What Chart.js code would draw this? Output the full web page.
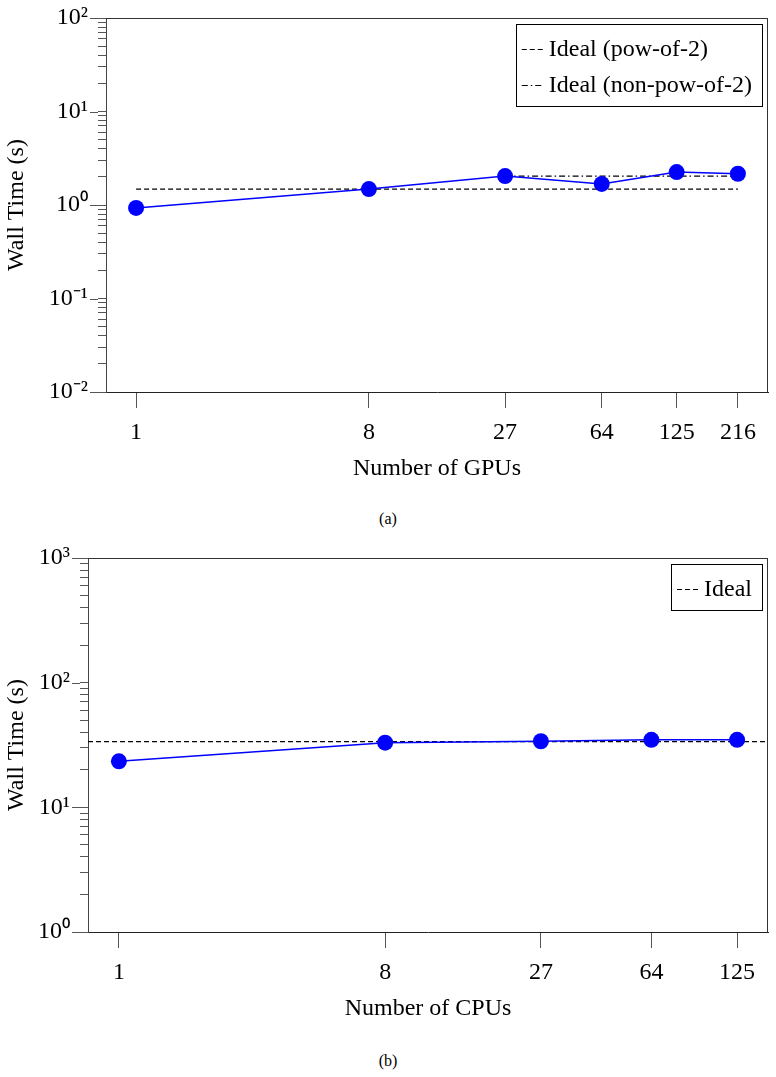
<!DOCTYPE html>
<html>
<head>
<meta charset="utf-8">
<script src="https://cdn.jsdelivr.net/npm/chart.js@4.4.1/dist/chart.umd.min.js"></script>
<style>
  body { margin: 0; background: #fff; }
  .panel { position: absolute; left: 0; width: 776px; height: 485px; }
  .caption { position: absolute; left: 0; width: 776px; text-align: center; font: 16px "Liberation Serif", serif; color: #000; }
</style>
</head>
<body>
<div class="panel" style="top:0"><canvas id="gpuChart"></canvas></div>
<div class="caption" style="top:510px">(a)</div>
<div class="panel" style="top:540px"><canvas id="cpuChart"></canvas></div>
<div class="caption" style="top:1052px">(b)</div>
<script>
// (a) GPU runs
const gpuCounts = [1, 8, 27, 64, 125, 216];
const gpuTimes = [0.93, 1.48, 2.04, 1.68, 2.25, 2.16];
const gpuIdealPow2 = 1.48;      // drawn from 1 to 216
const gpuIdealNonPow2 = 2.04;   // drawn from 27 to 216
const gpuYTicks = [0.01, 0.1, 1, 10, 100];

// (b) CPU runs
const cpuCounts = [1, 8, 27, 64, 125];
const cpuTimes = [23.4, 33.0, 33.9, 34.8, 34.8];
const cpuIdeal = 33.6;
const cpuYTicks = [1, 10, 100, 1000];

const FONT = '"Liberation Serif", "Times New Roman", serif';
const FSIZE = 24;
Chart.defaults.font.family = FONT;
Chart.defaults.color = '#000';

const SUP = { '-': '\u207B', '0': '\u2070', '1': '\u00B9', '2': '\u00B2', '3': '\u00B3' };

function isDecade(v) {
    const l = Math.log10(v);
    return Math.abs(l - Math.round(l)) < 1e-9;
}

function decadeLabel(v) {
    if (!isDecade(v)) return '';
    const e = String(Math.round(Math.log10(v)));
    return '10' + e.split('').map(c => SUP[c]).join('');
}

// majors plus the 2..9 minor marks between them
function logTicks(majors) {
    const out = [];
    majors.forEach((m, i) => {
        out.push({ value: m });
        if (i < majors.length - 1) {
            for (let k = 2; k <= 9; k++) out.push({ value: +(m * k).toPrecision(6) });
        }
    });
    return out;
}

// 5% log margin on each side, like the original plot
function logRange(counts) {
    const lo = Math.log10(counts[0]);
    const hi = Math.log10(counts[counts.length - 1]);
    const pad = (hi - lo) * 0.05;
    return [Math.pow(10, lo - pad), Math.pow(10, hi + pad)];
}

// top/right frame, longer major ticks, legend inside the plot
const framePlugin = {
    id: 'frame',
    afterDraw(chart) {
        const { ctx, chartArea: a, scales } = chart;
        ctx.save();
        ctx.strokeStyle = '#333';
        ctx.lineWidth = 1;
        ctx.beginPath();
        ctx.moveTo(a.left, Math.round(a.top) + 0.5);
        ctx.lineTo(a.right, Math.round(a.top) + 0.5);
        ctx.moveTo(Math.round(a.right) - 0.5, a.top);
        ctx.lineTo(Math.round(a.right) - 0.5, a.bottom);
        ctx.stroke();

        ctx.strokeStyle = '#555';
        ctx.beginPath();
        scales.y.ticks.forEach(t => {
            if (!isDecade(t.value)) return;
            const y = Math.round(scales.y.getPixelForValue(t.value)) + 0.5;
            ctx.moveTo(a.left - 16, y);
            ctx.lineTo(a.left - 8, y);
        });
        ctx.stroke();

        // legend
        const items = chart.data.datasets.filter(d => d.inLegend);
        ctx.font = FSIZE + 'px ' + FONT;
        const textW = Math.max(...items.map(d => ctx.measureText(d.label).width));
        const rowH = 36;
        const boxW = 6 + 21 + 6 + textW + 10;
        const boxH = 25 + rowH * (items.length - 1) + 21;
        const bx = a.right - 6 - boxW;
        const by = a.top + 6;
        ctx.fillStyle = '#fff';
        ctx.fillRect(bx, by, boxW, boxH);
        ctx.strokeStyle = '#000';
        ctx.strokeRect(Math.round(bx) + 0.5, Math.round(by) + 0.5, Math.round(boxW), Math.round(boxH));
        items.forEach((d, i) => {
            const cy = by + 25 + rowH * i;
            ctx.strokeStyle = d.borderColor;
            ctx.lineWidth = d.borderWidth;
            ctx.setLineDash(d.borderDash);
            ctx.beginPath();
            ctx.moveTo(bx + 6, Math.round(cy) + 0.5);
            ctx.lineTo(bx + 27, Math.round(cy) + 0.5);
            ctx.stroke();
            ctx.setLineDash([]);
            ctx.fillStyle = '#000';
            ctx.textBaseline = 'middle';
            ctx.textAlign = 'left';
            ctx.fillText(d.label, bx + 33, cy + 1);
        });
        ctx.restore();
    }
};

function makeChart(canvasId, counts, xTitle, yTicks, yAxisWidth, datasets) {
    const [xMin, xMax] = logRange(counts);
    return new Chart(document.getElementById(canvasId).getContext('2d'), {
        type: 'line',
        data: { datasets: datasets(xMin, xMax) },
        options: {
            responsive: true,
            maintainAspectRatio: false,
            animation: false,
            layout: { padding: { top: 18, right: 7, left: 0, bottom: 0 } },
            plugins: { legend: { display: false }, tooltip: { enabled: false } },
            scales: {
                x: {
                    type: 'logarithmic',
                    min: xMin,
                    max: xMax,
                    afterBuildTicks: axis => { axis.ticks = counts.map(v => ({ value: v })); },
                    afterFit: axis => {
                        axis.height = 93;
                        axis.paddingLeft = 0;
                        axis.paddingRight = 0;
                    },
                    border: { color: '#222', width: 1 },
                    grid: { drawOnChartArea: false, tickLength: 16, tickColor: '#555' },
                    ticks: {
                        autoSkip: false,
                        maxRotation: 0,
                        padding: 10,
                        font: { size: FSIZE },
                        callback: v => String(v)
                    },
                    title: { display: true, text: xTitle, font: { size: FSIZE }, padding: { top: 2, bottom: 2 } }
                },
                y: {
                    type: 'logarithmic',
                    min: yTicks[0],
                    max: yTicks[yTicks.length - 1],
                    afterBuildTicks: axis => { axis.ticks = logTicks(yTicks); },
                    afterFit: axis => {
                        axis.width = yAxisWidth;
                        axis.paddingTop = 0;
                        axis.paddingBottom = 0;
                    },
                    border: { color: '#444', width: 1 },
                    grid: { drawOnChartArea: false, tickLength: 8, tickColor: '#555' },
                    ticks: {
                        autoSkip: false,
                        padding: 10,
                        font: { size: FSIZE },
                        callback: v => decadeLabel(v)
                    },
                    title: { display: true, text: 'Wall Time (s)', font: { size: FSIZE }, padding: { top: 2, bottom: 2 } }
                }
            }
        },
        plugins: [framePlugin]
    });
}

const measured = (counts, times) => ({
    label: 'Measured',
    data: counts.map((c, i) => ({ x: c, y: times[i] })),
    borderColor: '#0000ff',
    backgroundColor: '#0000ff',
    borderWidth: 1.5,
    pointRadius: 8,
    pointBorderWidth: 0,
    tension: 0
});

makeChart('gpuChart', gpuCounts, 'Number of GPUs', gpuYTicks, 106, () => [
    measured(gpuCounts, gpuTimes),
    {
        label: 'Ideal (pow-of-2)',
        inLegend: true,
        data: [{ x: gpuCounts[0], y: gpuIdealPow2 }, { x: gpuCounts[gpuCounts.length - 1], y: gpuIdealPow2 }],
        borderColor: '#000',
        borderWidth: 1.2,
        borderDash: [5, 3],
        pointRadius: 0
    },
    {
        label: 'Ideal (non-pow-of-2)',
        inLegend: true,
        data: [{ x: gpuCounts[2], y: gpuIdealNonPow2 }, { x: gpuCounts[gpuCounts.length - 1], y: gpuIdealNonPow2 }],
        borderColor: '#000',
        borderWidth: 1.2,
        borderDash: [6, 3, 1.5, 3],
        pointRadius: 0
    }
]);

makeChart('cpuChart', cpuCounts, 'Number of CPUs', cpuYTicks, 88, (xMin, xMax) => [
    measured(cpuCounts, cpuTimes),
    {
        label: 'Ideal',
        inLegend: true,
        data: [{ x: xMin, y: cpuIdeal }, { x: xMax, y: cpuIdeal }],
        borderColor: '#000',
        borderWidth: 1.2,
        borderDash: [5, 3],
        pointRadius: 0
    }
]);
</script>
</body>
</html>
